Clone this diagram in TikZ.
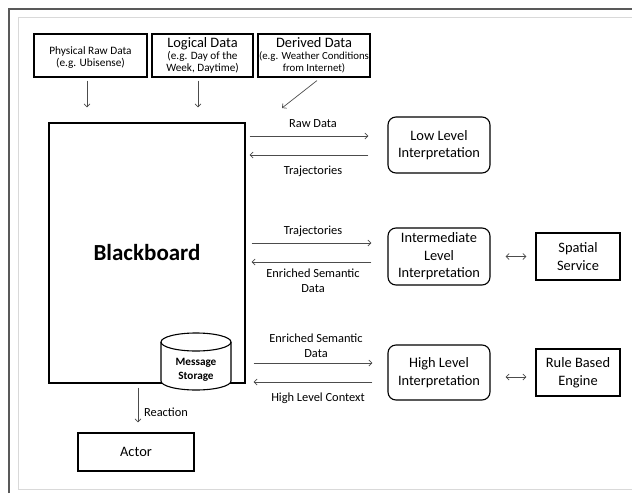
\documentclass[tikz,border=0pt]{standalone}
\usepackage{fontspec}
\setmainfont{Carlito}
\usetikzlibrary{arrows.meta}
\tikzset{
  box/.style={draw=black, line width=1.1pt, inner sep=0pt, align=center, font=\fontsize{14.4}{17.5}\selectfont},
  rbox/.style={box, rounded corners=8pt},
  topbox/.style={draw=black, line width=1.1pt, inner sep=0pt, align=center, minimum height=43pt},
  conn/.style={draw=black!70, line width=0.7pt, -{Straight Barb[length=3pt,width=6pt]}},
  dconn/.style={draw=black!70, line width=0.7pt, {Straight Barb[length=3pt,width=6pt]}-{Straight Barb[length=3pt,width=6pt]}},
  lab/.style={inner sep=0pt, align=center, font=\fontsize{12.4}{15}\selectfont},
}
\begin{document}
\begin{tikzpicture}[x=1pt,y=1pt]
\useasboundingbox (0,0) rectangle (632,-493);
% frame
\draw[draw=black!65, line width=1.5pt] (9,-493) -- (9,-9) -- (632,-9);
\draw[draw=black!15, line width=1pt] (632,-17) -- (18,-17) -- (18,-489) -- (632,-489);

% top boxes
\node[topbox, minimum width=113pt] (b1) at (90.5,-55.5)
  {\fontsize{11.3}{11.5}\selectfont\raisebox{-2.5pt}[\height][\depth]{\begin{tabular}{@{}c@{}}Physical Raw Data\\(e.g. Ubisense)\end{tabular}}};
\node[topbox, minimum width=101pt] (b2) at (202.5,-55.5)
  {\fontsize{14.4}{13}\selectfont Logical Data\\[0pt]\fontsize{11.2}{12.3}\selectfont (e.g. Day of the\\\fontsize{11.2}{12.3}\selectfont Week, Daytime)};
\node[topbox, minimum width=112pt] (b3) at (314,-55.5)
  {\fontsize{14.4}{13}\selectfont Derived Data\\[0pt]\fontsize{10.8}{12.3}\selectfont (e.g. Weather Conditions\\\fontsize{10.8}{12.3}\selectfont from Internet)};

% blackboard
\node[draw=black, line width=1.1pt, minimum width=196pt, minimum height=260pt, inner sep=0pt,
      font=\bfseries\fontsize{23}{27}\selectfont] (bb) at (147,-253) {Blackboard};

% arrows from top boxes
\draw[conn, shorten <=3pt, shorten >=15pt] ([xshift=-3.5pt]b1.south) -- ([xshift=-3.5pt]b1.south |- bb.north);
\draw[conn, shorten <=3pt, shorten >=15pt] ([xshift=-4.5pt]b2.south) -- ([xshift=-4.5pt]b2.south |- bb.north);
\coordinate (dtip) at (282,-108);
\draw[conn] ([xshift=3pt,yshift=-3pt]b3.south) -- (dtip);

% interpretation boxes
\node[rbox, minimum width=102pt, minimum height=56pt] (low) at (439,-145) {Low Level\\Interpretation};
\node[rbox, minimum width=102pt, minimum height=57pt] (mid) at (439,-256.5) {Intermediate\\Level\\Interpretation};
\node[rbox, minimum width=102pt, minimum height=55pt] (high) at (439,-372.5) {High Level\\Interpretation};
\node[box, minimum width=84pt, minimum height=47pt] (spat) at (578,-256.5) {Spatial\\Service};
\node[box, minimum width=84pt, minimum height=47pt] (rule) at (578,-372.5) {Rule Based\\Engine};

% connectors blackboard <-> low
\draw[conn, shorten <=4pt, shorten >=19pt] (bb.east |- 0,-136) -- (low.west |- 0,-136);
\draw[conn, shorten <=19pt, shorten >=4pt] (low.west |- 0,-155) -- (bb.east |- 0,-155);
\node[lab] (l1) at (313,-124) {Raw Data};
\node[lab] (l2) at (313,-171) {Trajectories};

% blackboard <-> mid
\draw[conn, shorten <=6pt, shorten >=16pt] (bb.east |- 0,-243) -- (mid.west |- 0,-243);
\draw[conn, shorten <=16pt, shorten >=6pt] (mid.west |- 0,-262) -- (bb.east |- 0,-262);
\node[lab] (l3) at (313,-231) {Trajectories};
\node[lab] (l4) at (313,-280.5) {Enriched Semantic\\Data};

% blackboard <-> high
\draw[conn, shorten <=8pt, shorten >=15pt] (bb.east |- 0,-363) -- (high.west |- 0,-363);
\draw[conn, shorten <=15pt, shorten >=8pt] (high.west |- 0,-382) -- (bb.east |- 0,-382);
\node[lab] (l5) at (316,-345.5) {Enriched Semantic\\Data};
\node[lab] (l6) at (318,-398) {High Level Context};

% double arrows
\draw[dconn, shorten <=15pt, shorten >=9pt] (mid.east) -- (spat.west);
\draw[dconn, shorten <=15pt, shorten >=9pt] (high.east |- 0,-377) -- (rule.west |- 0,-377);

% message storage cylinder
\filldraw[draw=black, line width=1.1pt, fill=white]
  (161,-342) -- (161,-381) arc[start angle=180, end angle=360, x radius=35, y radius=9]
  -- (231,-342) arc[start angle=0, end angle=180, x radius=35, y radius=9] -- cycle;
\draw[draw=black, line width=1.1pt] (161,-342) arc[start angle=180, end angle=360, x radius=35, y radius=9];
\node[inner sep=0pt, align=center, font=\bfseries\fontsize{11.2}{14}\selectfont] (ms) at (196,-370) {Message\\Storage};

% actor
\node[box, minimum width=116pt, minimum height=38pt] (actor) at (136,-452) {Actor};
\coordinate (rx) at (138,0);
\draw[conn, shorten <=4pt, shorten >=10pt] (rx |- bb.south) -- (rx |- actor.north);
\node[lab] (l7) at (166,-412) {Reaction};
\end{tikzpicture}
\end{document}
